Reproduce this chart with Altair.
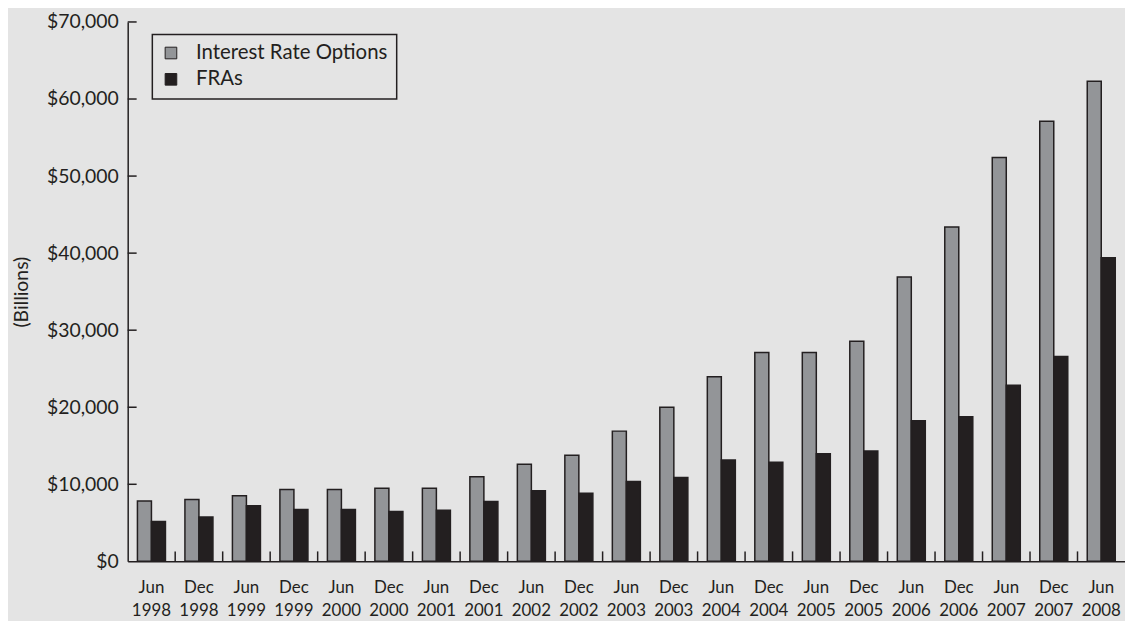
import altair as alt
import pandas as pd

periods = ["Jun 1998", "Dec 1998", "Jun 1999", "Dec 1999", "Jun 2000", "Dec 2000",
           "Jun 2001", "Dec 2001", "Jun 2002", "Dec 2002", "Jun 2003", "Dec 2003",
           "Jun 2004", "Dec 2004", "Jun 2005", "Dec 2005", "Jun 2006", "Dec 2006",
           "Jun 2007", "Dec 2007", "Jun 2008"]
series = ["Interest Rate Options", "FRAs"]
iro = [7820, 8040, 8500, 9330, 9330, 9490, 9500, 10970, 12600, 13760, 16900, 20000,
       23970, 27100, 27100, 28550, 36900, 43400, 52400, 57100, 62300]
fra = [5160, 5750, 7220, 6740, 6740, 6470, 6640, 7760, 9170, 8850, 10370, 10890,
       13160, 12860, 13970, 14320, 18260, 18770, 22850, 26600, 39400]
y_ticks = [0, 10000, 20000, 30000, 40000, 50000, 60000, 70000]

rows = []
for p, a, b in zip(periods, iro, fra):
    rows.append({"period": p, "series": series[0], "value": a})
    rows.append({"period": p, "series": series[1], "value": b})
df = pd.DataFrame(rows)

W, H = 1004, 543
N = len(periods)
step = W / N
PI = 0.41
INK = "#231f20"
BG = "#e4e4e4"
FONT = "Lato"

xscale = alt.Scale(paddingInner=PI, paddingOuter=PI / 2)
yscale = alt.Scale(domain=[0, 70000], nice=False)

x_axis = alt.Axis(title=None, ticks=False, labelAngle=0,
                  labelExpr="split(datum.label, ' ')",
                  labelFontSize=17, labelLineHeight=24, labelPadding=18,
                  labelFont=FONT, labelColor=INK, labelOverlap=False,
                  domainColor=INK, domainWidth=1.5)
y_axis = alt.Axis(values=y_ticks, format="$,.0f", ticks=False, grid=False,
                  labelPadding=9.5, labelFontSize=19.5, labelFont=FONT,
                  labelColor=INK, domainColor=INK, domainWidth=1.5,
                  title="(Billions)", titleFontSize=19.5, titleFont=FONT,
                  titleFontWeight="normal", titleColor=INK,
                  titleX=-107, titleY=H / 2, titleAlign="center",
                  titleBaseline="middle")

bars = alt.Chart(df).mark_bar(stroke=INK, strokeWidth=1.5).encode(
    x=alt.X("period:N", sort=periods, scale=xscale, axis=x_axis),
    xOffset=alt.XOffset("series:N", sort=series),
    y=alt.Y("value:Q", scale=yscale, axis=y_axis),
    color=alt.Color("series:N", sort=series,
                    scale=alt.Scale(domain=series, range=["#939598", INK]),
                    legend=alt.Legend(title=None, orient="none", legendX=24.8, legendY=12.5,
                                      symbolType="square", symbolSize=137,
                                      symbolStrokeColor=INK, symbolStrokeWidth=1,
                                      labelFontSize=20.5, labelFont=FONT, labelColor=INK,
                                      labelLimit=400,
                                      labelOffset=15, rowPadding=5.5, padding=8.5,
                                      strokeColor=INK, fillColor=BG)),
)

ytick_df = pd.DataFrame({"value": y_ticks[1:]})
yticks = alt.Chart(ytick_df).mark_rule(color=INK, strokeWidth=1.5).encode(
    y=alt.Y("value:Q", scale=yscale, axis=y_axis),
    x=alt.value(0), x2=alt.value(9),
)

xtick_df = pd.DataFrame({"period": periods[1:]})
xticks = alt.Chart(xtick_df).mark_rule(color=INK, strokeWidth=1.5,
                                       xOffset=-step * PI / 2).encode(
    x=alt.X("period:N", sort=periods, scale=xscale, bandPosition=0, axis=x_axis),
    y=alt.value(H - 10), y2=alt.value(H),
)

chart = alt.layer(bars, yticks, xticks).properties(
    width=W, height=H,
    padding={"left": 120.5, "top": 12, "right": 0, "bottom": 58},
    autosize=alt.AutoSizeParams(type="none"),
    background=BG,
).configure_view(stroke=None).configure_legend(strokeWidth=1.5)

chart.save("out.html", embed_options={"renderer": "svg", "actions": False})
